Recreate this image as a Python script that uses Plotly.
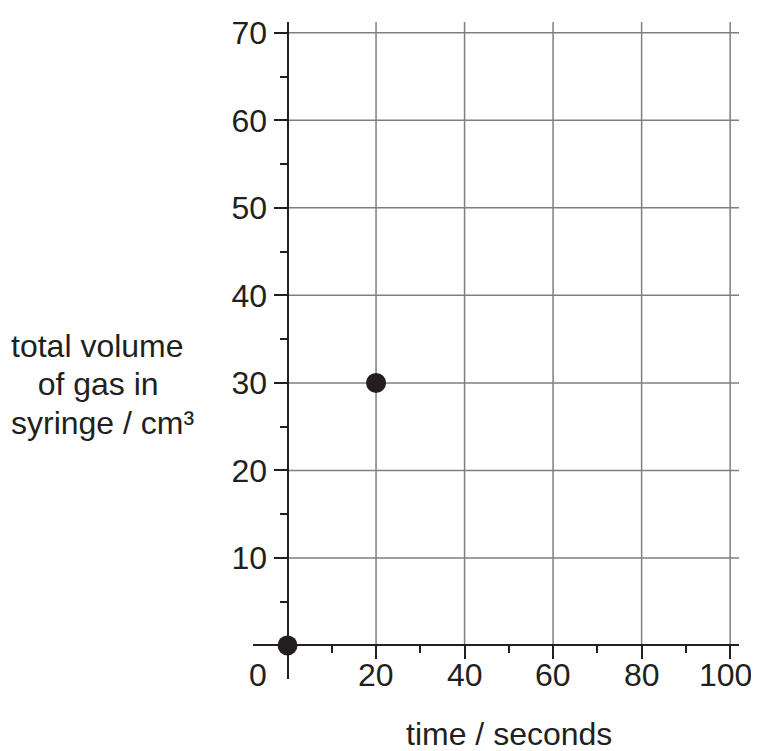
import plotly.graph_objects as go

# data
time_s = [0, 20]
volume_cm3 = [0, 30]

x_major = [20, 40, 60, 80, 100]
y_major = [10, 20, 30, 40, 50, 60, 70]
x_labels = ["20", "40", "60", "80", "100"]
y_labels = ["10", "20", "30", "40", "50", "60", "70"]
origin_label = "0"
x_title = "time / seconds"
y_title_lines = ["total volume", "\u00a0\u00a0\u00a0of gas in", "syringe / cm³"]

x_range = [-7.8, 102.0]
y_range = [-3.84, 71.24]

ink = "#231f20"
grid = "#7f7f7f"
font = "Liberation Sans, Arial, sans-serif"
fs = 32

fig = go.Figure()
fig.add_trace(go.Scatter(
    x=time_s, y=volume_cm3, mode="markers",
    marker=dict(size=20, color=ink, line=dict(width=0)),
    showlegend=False, cliponaxis=False,
))

shapes = []
for xv in x_major:
    shapes.append(dict(type="line", xref="x", yref="y", x0=xv, x1=xv, y0=0, y1=y_range[1],
                       line=dict(color=grid, width=1.5), layer="below"))
for yv in y_major:
    shapes.append(dict(type="line", xref="x", yref="y", x0=0, x1=x_range[1], y0=yv, y1=yv,
                       line=dict(color=grid, width=1.5), layer="below"))

xpos = (0 - y_range[0]) / (y_range[1] - y_range[0])
ypos = (0 - x_range[0]) / (x_range[1] - x_range[0])

annotations = []
for i, (xv, lab) in enumerate(zip(x_major, x_labels)):
    last = i == len(x_major) - 1
    annotations.append(dict(text=lab, x=xv, y=0, xref="x", yref="y", showarrow=False,
                            xanchor="center", yanchor="top", yshift=-10,
                            xshift=-5 if last else 0,
                            font=dict(size=fs, color=ink, family=font)))
annotations.append(dict(text=origin_label, x=0, y=0, xref="x", yref="y", showarrow=False,
                        xanchor="center", yanchor="top", xshift=-30, yshift=-10,
                        font=dict(size=fs, color=ink, family=font)))
for i, line in enumerate(y_title_lines):
    annotations.append(dict(text=line, x=(1 - 245) / 486, y=30, xref="paper", yref="y",
                            showarrow=False, xanchor="left", yanchor="middle", align="left",
                            yshift=37 - 38.5 * i,
                            font=dict(size=fs, color=ink, family=font)))
annotations.append(dict(text=x_title, x=50, y=0, xref="x", yref="paper", showarrow=False,
                        xanchor="center", yanchor="top", yshift=-35,
                        font=dict(size=fs, color=ink, family=font)))

fig.update_layout(
    width=751, height=743,
    margin=dict(l=245, r=20, t=7, b=72),
    plot_bgcolor="white", paper_bgcolor="white",
    font=dict(family=font, size=fs, color=ink),
    shapes=shapes,
    annotations=annotations,
    xaxis=dict(
        range=x_range, showgrid=False, showline=False,
        zeroline=True, zerolinecolor=ink, zerolinewidth=2,
        tickmode="array", tickvals=x_major, showticklabels=False,
        ticks="outside", ticklen=13, tickwidth=2, tickcolor=ink,
        anchor="free", position=xpos,
        minor=dict(tickmode="linear", tick0=0, dtick=10, ticks="outside", ticklen=7,
                   tickwidth=2, tickcolor=ink, showgrid=False),
    ),
    yaxis=dict(
        range=y_range, showgrid=False, showline=False,
        zeroline=True, zerolinecolor=ink, zerolinewidth=2,
        tickmode="array", tickvals=y_major, ticktext=y_labels,
        ticks="outside", ticklen=14, tickwidth=2, tickcolor=ink,
        tickfont=dict(size=fs, color=ink, family=font),
        anchor="free", position=ypos,
        minor=dict(tickmode="linear", tick0=0, dtick=5, ticks="outside", ticklen=8,
                   tickwidth=2, tickcolor=ink, showgrid=False),
    ),
)

fig.write_html("out.html")
